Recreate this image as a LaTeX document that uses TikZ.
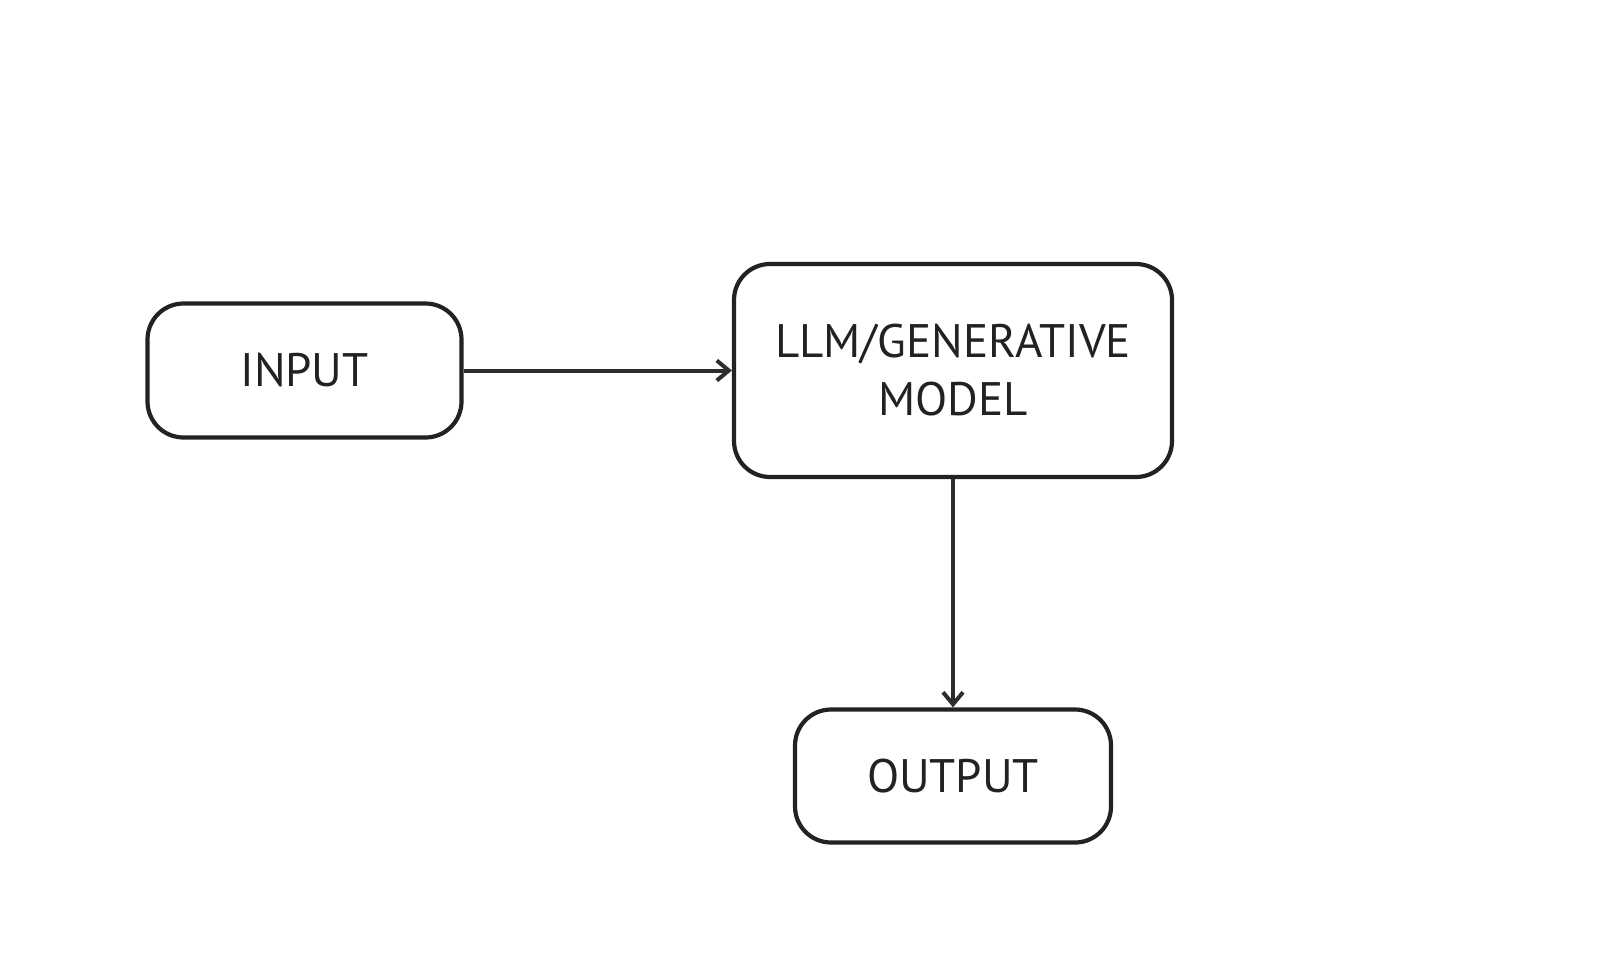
\documentclass[tikz,border=0pt]{standalone}
\usepackage{fontspec}
\setmainfont{PT Sans}
\usetikzlibrary{arrows.meta}
\definecolor{ink}{HTML}{222222}
\begin{document}
\begin{tikzpicture}[x=1pt,y=-1pt,
  box/.style={draw=ink,line width=4.2pt,rounded corners=36pt,inner sep=0pt,text=ink,font=\fontsize{47}{58}\selectfont,align=center},
  conn/.style={draw=ink!95,line width=4pt,-{Straight Barb[length=12pt,width=20pt,line width=4pt]}}]
\useasboundingbox (0,0) rectangle (1621,963);
\node[box,minimum width=314pt,minimum height=134pt] (in) at (304.5,370.5) {INPUT};
\node[box,minimum width=438pt,minimum height=213pt] (llm) at (953,370.5) {LLM/GENERATIVE\\MODEL};
\node[box,minimum width=316pt,minimum height=133pt] (out) at (953,776) {OUTPUT};
\draw[conn] (in.east) -- (llm.west);
\draw[conn] (llm.south) -- (out.north);
\end{tikzpicture}
\end{document}
